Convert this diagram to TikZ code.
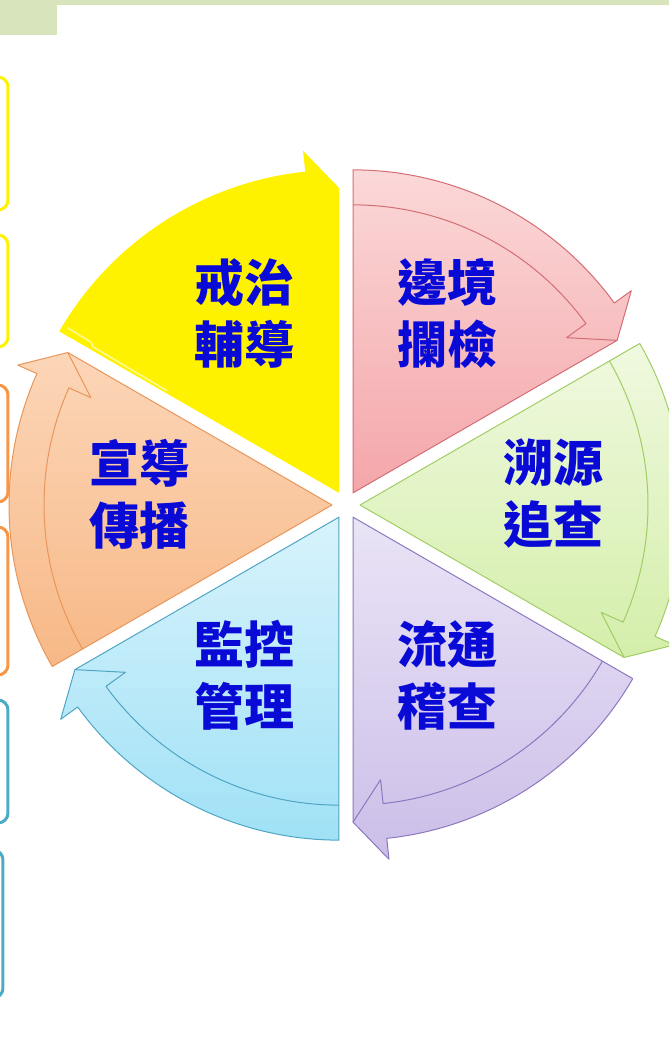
\documentclass[tikz,border=0pt]{standalone}
\usepackage{fontspec}
\newfontfamily\cjk{Noto Sans CJK TC}
\definecolor{tabgreen}{RGB}{216,228,188}
\definecolor{boxorange}{RGB}{247,150,70}
\definecolor{boxteal}{RGB}{75,172,198}
\definecolor{wordblue}{RGB}{10,10,215}
\definecolor{redtop}{RGB}{251,216,216}
\definecolor{redbot}{RGB}{244,166,170}
\definecolor{redline}{RGB}{212,110,116}
\definecolor{greentop}{RGB}{240,249,224}
\definecolor{greenbot}{RGB}{212,238,170}
\definecolor{greenline}{RGB}{160,205,100}
\definecolor{purpletop}{RGB}{234,228,246}
\definecolor{purplebot}{RGB}{204,190,232}
\definecolor{purpleline}{RGB}{140,120,190}
\definecolor{bluetop}{RGB}{216,243,252}
\definecolor{bluebot}{RGB}{160,225,246}
\definecolor{blueline}{RGB}{80,165,195}
\definecolor{orangetop}{RGB}{252,214,184}
\definecolor{orangebot}{RGB}{247,184,134}
\definecolor{orangeline}{RGB}{232,150,90}
\tikzset{
  sidebox/.style={line width=3pt, rounded corners=10pt},
  wordlabel/.style={text=wordblue, align=center, inner sep=0pt,
    font={\cjk\bfseries\fontsize{50}{62}\selectfont}},
}
\begin{document}
\begin{tikzpicture}[x=1pt,y=1pt]
  \useasboundingbox (-346,-552) rectangle (323,505);
  \clip (-346,-552) rectangle (323,505);

  \fill[tabgreen] (-346,505) rectangle (323,500);
  \fill[tabgreen] (-346,505) rectangle (-289,470);

  \draw[sidebox, yellow] (-390,428) rectangle (-338,295);
  \draw[sidebox, yellow] (-390,270) rectangle (-338,158);
  \draw[sidebox, boxorange] (-390,120) rectangle (-338,3);
  \draw[sidebox, boxorange] (-390,-22) rectangle (-338,-170);
  \draw[sidebox, boxteal] (-390,-195) rectangle (-338,-318);
  \draw[sidebox, boxteal] (-390,-345) rectangle (-343,-493);

  \foreach \b/\ct/\cb/\cl in {60/redtop/redbot/redline, 0/greentop/greenbot/greenline,
      -60/purpletop/purplebot/purpleline, -120/bluetop/bluebot/blueline,
      180/orangetop/orangebot/orangeline}{
    \begin{scope}[shift={(\b:14)}]
      \shade[top color=\ct, bottom color=\cb] (0,0) -- (\b+30:323)
        arc[start angle=\b+30, end angle=\b-24, radius=323]
        -- (\b-24:344) -- (\b-30:305) -- cycle;
      \draw[\cl, line width=1pt, line join=round] (0,0) -- (\b+30:323)
        arc[start angle=\b+30, end angle=\b-24, radius=323]
        -- (\b-24:344) -- (\b-30:305) -- cycle;
      \draw[\cl, line width=1pt, line join=round] (\b+30:288)
        arc[start angle=\b+30, end angle=\b-24, radius=288]
        -- (\b-24:264) -- (\b-30:305);
    \end{scope}
  }
  \begin{scope}[shift={(120:14)}]
    \fill[yellow] (0,0) -- (150:323) arc[start angle=150, end angle=96, radius=323]
      -- (96:344) -- (90:305) -- cycle;
    \draw[yellow!40!white, line width=1.5pt] (149.3:200) -- (149.3:286) -- (148.7:290) -- (148.7:318);
  \end{scope}

  \node[wordlabel] (Jie) at (-101,192) {戒治\\輔導};
  \node[wordlabel] (Bian) at (101,192) {邊境\\攔檢};
  \node[wordlabel] (Su) at (207,11) {溯源\\追查};
  \node[wordlabel] (Liu) at (101,-170) {流通\\稽查};
  \node[wordlabel] (Jian) at (-101,-170) {監控\\管理};
  \node[wordlabel] (Xuan) at (-206,11) {宣導\\傳播};
\end{tikzpicture}
\end{document}
